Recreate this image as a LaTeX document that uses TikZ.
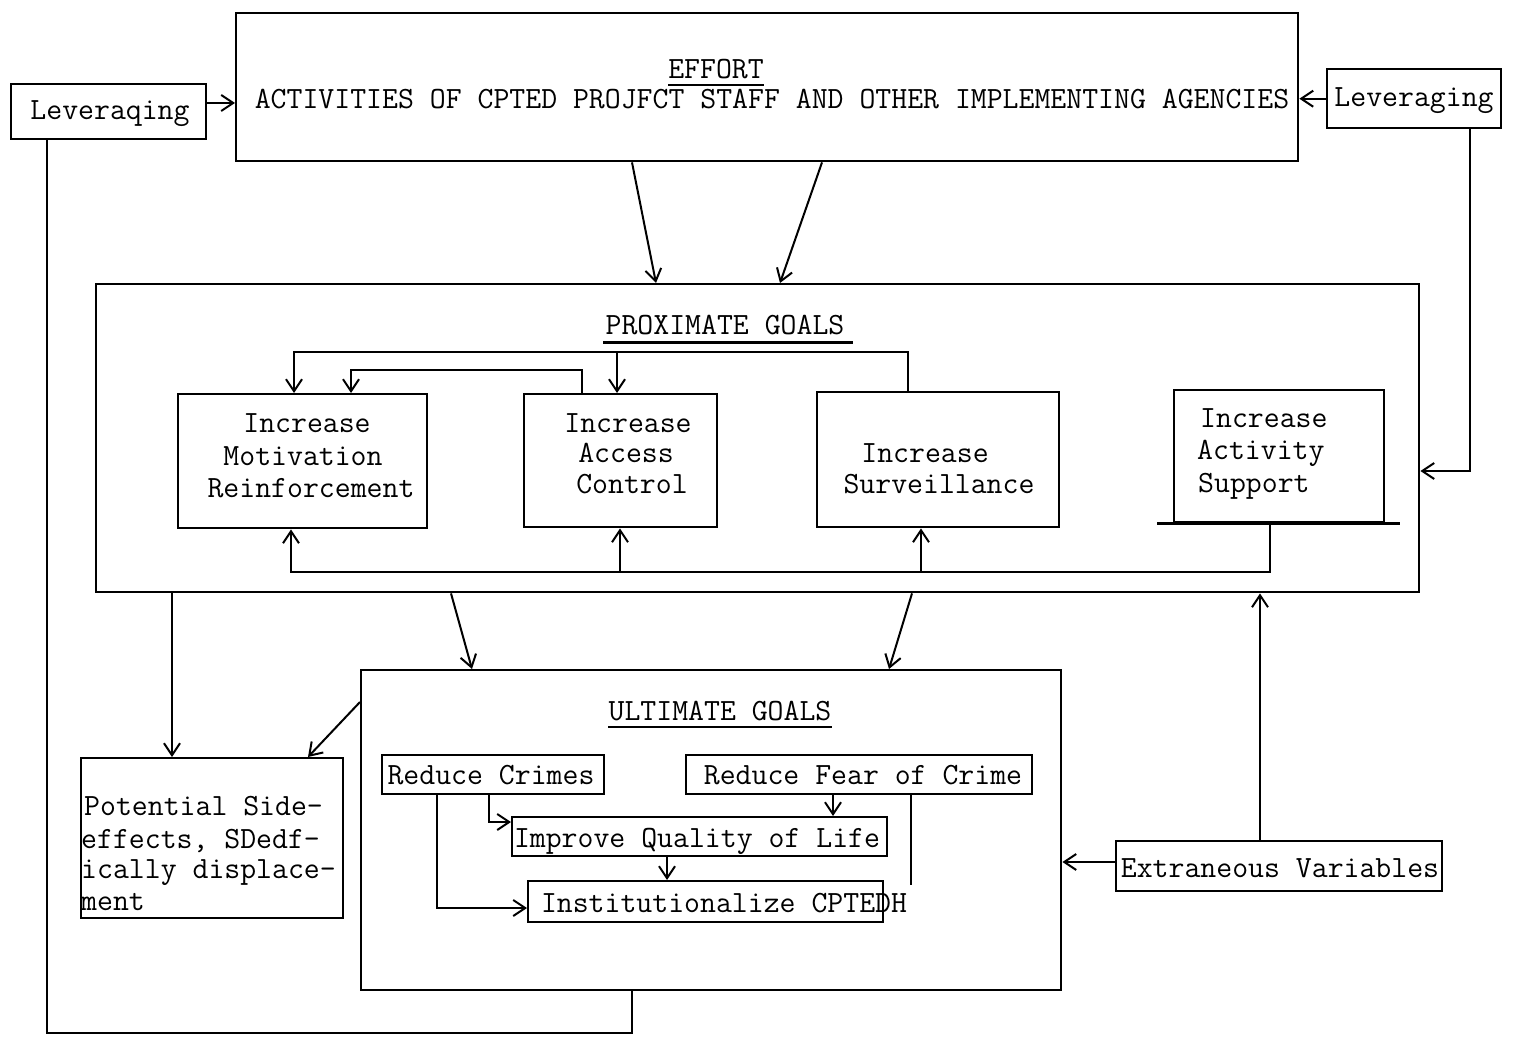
\documentclass[tikz,border=0pt]{standalone}
\usetikzlibrary{arrows.meta}
\begin{document}
\begin{tikzpicture}[x=1pt,y=-1pt,
  box/.style={draw, line width=2.4pt, inner sep=0pt, anchor=north west},
  txt/.style={inner sep=0pt, anchor=base, font=\ttfamily\fontsize{30.9}{32}\selectfont},
  ltxt/.style={txt, anchor=base west},
  conn/.style={line width=2pt, -{Straight Barb[length=12pt,width=16pt,line width=2pt]}},
  plain/.style={line width=2pt}]
\path[use as bounding box] (0,0) rectangle (1513,1040);

% boxes
\node[box, minimum width=1062pt, minimum height=148pt] (effort) at (235,12) {};
\node[box, minimum width=195pt, minimum height=55pt] (levL) at (10,83) {};
\node[box, minimum width=174pt, minimum height=59pt] (levR) at (1326,68) {};
\node[box, minimum width=1323pt, minimum height=308pt] (prox) at (95,283) {};
\node[box, minimum width=249pt, minimum height=134pt] (mot) at (177,393) {};
\node[box, minimum width=193pt, minimum height=133pt] (acc) at (523,393) {};
\node[box, minimum width=242pt, minimum height=135pt] (surv) at (816,391) {};
\node[box, minimum width=210pt, minimum height=132pt] (act) at (1173,389) {};
\node[box, minimum width=700pt, minimum height=320pt] (ult) at (360,669) {};
\node[box, minimum width=262pt, minimum height=160pt] (side) at (80,757) {};
\node[box, minimum width=222pt, minimum height=39pt] (rc) at (381,754) {};
\node[box, minimum width=346pt, minimum height=39pt] (rf) at (685,754) {};
\node[box, minimum width=375pt, minimum height=39pt] (iq) at (511,816) {};
\node[box, minimum width=355pt, minimum height=41pt] (inst) at (527,880) {};
\node[box, minimum width=326pt, minimum height=50pt] (ext) at (1115,840) {};
\draw[line width=2.4pt] ([xshift=-16pt]act.south west) -- ([xshift=15pt]act.south east);

% texts
\node[txt] (effT) at (716,79) {EFFORT};
\draw[line width=1.6pt] ([yshift=-6pt]effT.base west) -- ([yshift=-6pt]effT.base east);
\node[txt] (actT) at (772,109) {ACTIVITIES OF CPTED PROJFCT STAFF AND OTHER IMPLEMENTING AGENCIES};
\node[txt] (levLT) at (110,120) {Leveraqing};
\node[txt] (levRT) at (1414,107) {Leveraging};
\node[txt] (proxT) at (725,335) {PROXIMATE GOALS};
\draw[line width=3pt] ([yshift=-8pt,xshift=-2pt]proxT.base west) -- ([yshift=-8pt,xshift=8pt]proxT.base east);
\node[txt] (motA) at (307,433) {Increase};
\node[txt] (motB) at (303,465) {Motivation};
\node[txt] (motC) at (311,497) {Reinforcement};
\node[txt] (accA) at (628,432) {Increase};
\node[txt] (accB) at (626,463) {Access};
\node[txt] (accC) at (632,493) {Control};
\node[txt] (survA) at (925,462) {Increase};
\node[txt] (survB) at (939,493) {Surveillance};
\node[ltxt] (actA) at (1200,428) {Increase};
\node[ltxt] (actB) at (1197,460) {Activity};
\node[ltxt] (actC) at (1198,492) {Support};
\node[txt] (ultT) at (720,720) {ULTIMATE GOALS};
\draw[line width=2pt] ([yshift=-7pt]ultT.base west) -- ([yshift=-7pt]ultT.base east);
\node[txt] (rcT) at (491,784) {Reduce Crimes};
\node[txt] (rfT) at (863,784) {Reduce Fear of Crime};
\node[txt] (iqT) at (697,847) {Improve Quality of Life};
\node[txt] (instT) at (724,912) {Institutionalize CPTEDH};
\node[ltxt] (sideA) at (84,815) {Potential Side-};
\node[ltxt] (sideB) at (81,848) {effects, SDedf-};
\node[ltxt] (sideC) at (81,878) {ically displace-};
\node[ltxt] (sideD) at (81,910) {ment};
\node[txt] (extT) at (1280,877) {Extraneous Variables};

% connectors
\draw[conn] (levL.east |- 0,103) -- (effort.west |- 0,103);
\draw[conn] (levR.west) -- (levR.west -| effort.east);
\draw[conn] (effort.south -| 632,0) -- (prox.north -| 656,0);
\draw[conn] (effort.south -| 822,0) -- (prox.north -| 780,0);
\draw[plain] (levL.south -| 47,0) -- (47,1033) -- (632,1033) -- (ult.south -| 632,0);
\draw[conn] (levR.south -| 1470,0) |- (prox.east |- 0,471);

\draw[conn] (surv.north -| 908,0) -- (908,352) -| (mot.north -| 294,0);
\draw[conn] (617,352) -- (acc.north -| 617,0);
\draw[conn] (acc.north -| 582,0) -- (582,370) -| (mot.north -| 351,0);
\draw[conn] (act.south -| 1270,0) -- (1270,572) -| (mot.south -| 291,0);
\draw[conn] (620,572) -- (acc.south -| 620,0);
\draw[conn] (921,572) -- (surv.south -| 921,0);

\draw[conn] (prox.south -| 451,0) -- (ult.north -| 472,0);
\draw[conn] (prox.south -| 912,0) -- (ult.north -| 889,0);
\draw[conn] (prox.south -| 172,0) -- (side.north -| 172,0);
\draw[conn] (ult.west |- 0,702) -- (side.north -| 308,0);

\draw[conn] (rc.south -| 489,0) |- (iq.west |- 0,822);
\draw[conn] (rc.south -| 437,0) |- (inst.west |- 0,908);
\draw[conn] (rf.south -| 833,0) -- (iq.north -| 833,0);
\draw[conn] (iq.south -| 667,0) -- (inst.north -| 667,0);
\draw[plain] (rf.south -| 911,0) -- (911,885);

\draw[conn] (ext.west |- 0,862) -- (ult.east |- 0,862);
\draw[conn] (ext.north -| 1260,0) -- (prox.south -| 1260,0);
\end{tikzpicture}
\end{document}
